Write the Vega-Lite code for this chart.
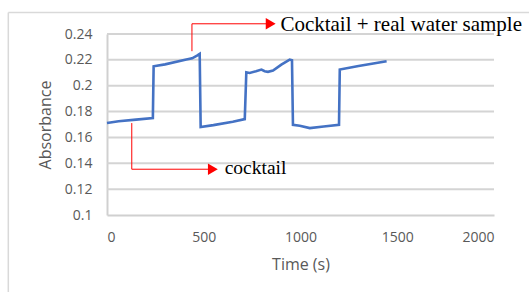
{
  "$schema": "https://vega.github.io/schema/vega-lite/v6.json",
  "width": 387,
  "height": 181,
  "autosize": {"type": "none"},
  "padding": {"left": 107, "top": 34, "right": 35, "bottom": 77},
  "background": "white",
  "config": {
    "view": {"stroke": null},
    "axis": {
      "labelFont": "Open Sans",
      "titleFont": "Open Sans",
      "labelColor": "#595959",
      "titleColor": "#595959",
      "labelFontSize": 14,
      "titleFontSize": 16,
      "titleFontWeight": "normal",
      "grid": false,
      "domainColor": "#d0d0d0",
      "domainWidth": 2,
      "tickSize": 0,
      "tickColor": "#d0d0d0",
      "labelOverlap": false
    }
  },
  "encoding": {
    "x": {
      "field": "x", "type": "quantitative",
      "scale": {"domain": [0, 2000], "nice": false, "zero": false},
      "axis": {"values": [0, 500, 1000, 1500, 2000], "format": "d", "title": "Time (s)", "grid": false, "labelPadding": 15, "titlePadding": 12, "labelOverlap": false}
    },
    "y": {
      "field": "y", "type": "quantitative",
      "scale": {"domain": [0.1, 0.24], "nice": false, "zero": false},
      "axis": {"values": [0.1, 0.12, 0.14, 0.16, 0.18, 0.2, 0.22, 0.24], "format": "~g", "title": "Absorbance", "grid": false, "labelPadding": 15, "titlePadding": 11, "labelOverlap": false}
    }
  },
  "layer": [
    {
      "data": {"values": [
        {"x": 0, "x2": 2000, "y": 0.12},
        {"x": 0, "x2": 2000, "y": 0.14},
        {"x": 0, "x2": 2000, "y": 0.16},
        {"x": 0, "x2": 2000, "y": 0.18},
        {"x": 0, "x2": 2000, "y": 0.2},
        {"x": 0, "x2": 2000, "y": 0.22},
        {"x": 0, "x2": 2000, "y": 0.24}
      ]},
      "mark": {"type": "rule", "color": "#d4d4d4", "strokeWidth": 2},
      "encoding": {
        "x2": {"field": "x2"}
      }
    },
    {
      "data": {"values": [
        {"x": 0, "y": 0.1711},
        {"x": 60, "y": 0.1725},
        {"x": 150, "y": 0.1738},
        {"x": 237, "y": 0.175},
        {"x": 241, "y": 0.215},
        {"x": 300, "y": 0.2165},
        {"x": 410, "y": 0.2202},
        {"x": 440, "y": 0.2212},
        {"x": 465, "y": 0.2233},
        {"x": 479, "y": 0.2246},
        {"x": 484, "y": 0.168},
        {"x": 550, "y": 0.1695},
        {"x": 650, "y": 0.1722},
        {"x": 712, "y": 0.1742},
        {"x": 720, "y": 0.2104},
        {"x": 737, "y": 0.2099},
        {"x": 770, "y": 0.2112},
        {"x": 798, "y": 0.2125},
        {"x": 815, "y": 0.2112},
        {"x": 832, "y": 0.2107},
        {"x": 858, "y": 0.2117},
        {"x": 901, "y": 0.2163},
        {"x": 944, "y": 0.2202},
        {"x": 956, "y": 0.2197},
        {"x": 961, "y": 0.1698},
        {"x": 996, "y": 0.169},
        {"x": 1048, "y": 0.1672},
        {"x": 1120, "y": 0.1685},
        {"x": 1199, "y": 0.1698},
        {"x": 1203, "y": 0.2125},
        {"x": 1300, "y": 0.2152},
        {"x": 1445, "y": 0.2189}
      ]},
      "mark": {"type": "line", "color": "#4472C4", "strokeWidth": 2.6}
    },
    {
      "data": {"values": [
        {"x": -510, "y": 0.2567, "x2": -510, "y2": 0.0},
        {"x": -510, "y": 0.2567, "x2": 3000, "y2": 0.2567}
      ]},
      "mark": {"type": "rule", "color": "#d9d9d9", "strokeWidth": 1.5},
      "encoding": {
        "x2": {"field": "x2"},
        "y2": {"field": "y2"}
      }
    },
    {
      "data": {"values": [
        {"x": 439, "y": 0.2267, "x2": 439, "y2": 0.2479},
        {"x": 439, "y": 0.2479, "x2": 846, "y2": 0.2479},
        {"x": 128, "y": 0.1711, "x2": 128, "y2": 0.1354},
        {"x": 128, "y": 0.1354, "x2": 547, "y2": 0.1354}
      ]},
      "mark": {"type": "rule", "color": "#ff0000", "strokeWidth": 1},
      "encoding": {
        "x2": {"field": "x2"},
        "y2": {"field": "y2"}
      }
    },
    {
      "data": {"values": [
        {"x": 846, "y": 0.2479},
        {"x": 547, "y": 0.1354}
      ]},
      "mark": {"type": "point", "shape": "triangle-right", "filled": true, "color": "#ff0000", "opacity": 1, "size": 130}
    },
    {
      "data": {"values": [{"x": 896, "y": 0.2422, "label": "Cocktail + real water sample"}]},
      "mark": {"type": "text", "font": "Liberation Serif", "fontSize": 21, "align": "left", "baseline": "alphabetic", "color": "#000000"},
      "encoding": {"text": {"field": "label"}}
    },
    {
      "data": {"values": [{"x": 608, "y": 0.1318, "label": "cocktail"}]},
      "mark": {"type": "text", "font": "Liberation Serif", "fontSize": 19.5, "align": "left", "baseline": "alphabetic", "color": "#000000"},
      "encoding": {"text": {"field": "label"}}
    }
  ]
}
